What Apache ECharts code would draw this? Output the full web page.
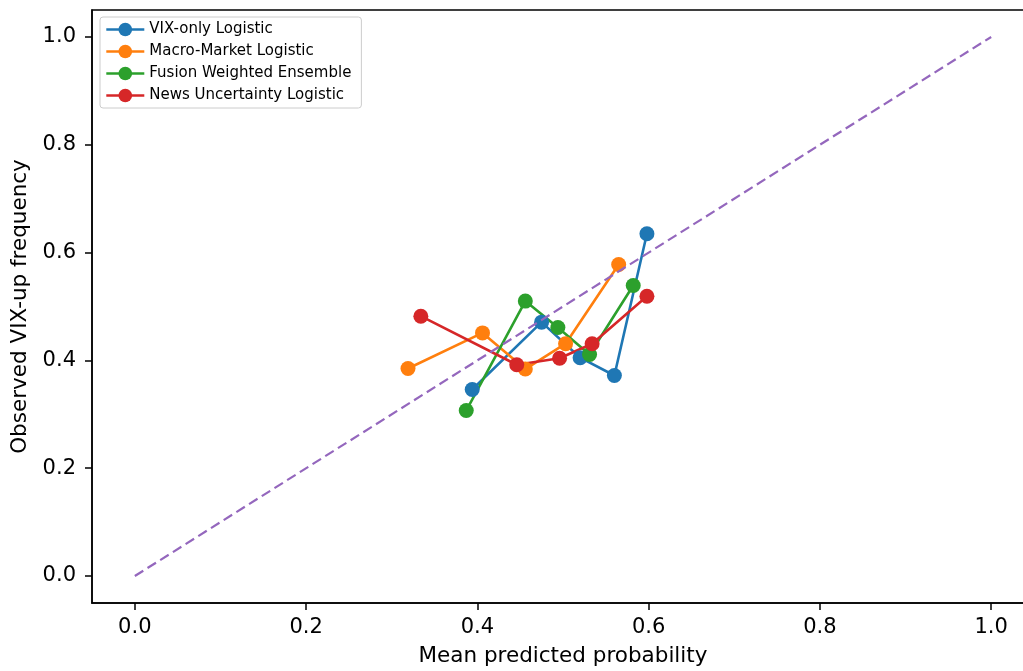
<!DOCTYPE html>
<html>
<head>
<meta charset="utf-8">
<title>Calibration curves</title>
<script src="https://cdn.jsdelivr.net/npm/echarts@6/dist/echarts.min.js"></script>
<style>
  html, body { margin: 0; padding: 0; background: #fff; }
  #main { width: 1023px; height: 671px; }
</style>
</head>
<body>
<div id="main"></div>
<script>
// calibration points: [mean predicted prob, observed freq]
var vixOnly = [[0.394, 0.346], [0.475, 0.471], [0.520, 0.405], [0.560, 0.372], [0.598, 0.635]]
var macroMarket = [[0.319, 0.385], [0.406, 0.451], [0.456, 0.384], [0.503, 0.431], [0.565, 0.578]]
var fusionEnsemble = [[0.387, 0.307], [0.456, 0.510], [0.494, 0.461], [0.531, 0.411], [0.582, 0.539]]
var newsUncertainty = [[0.334, 0.482], [0.446, 0.392], [0.496, 0.404], [0.534, 0.431], [0.598, 0.519]]
var diagonal = [[0, 0], [1, 1]]

var seriesNames = ['VIX-only Logistic', 'Macro-Market Logistic', 'Fusion Weighted Ensemble', 'News Uncertainty Logistic']
var seriesColors = ['#1f77b4', '#ff7f0e', '#2ca02c', '#d62728']
var tickValues = [0, 0.2, 0.4, 0.6, 0.8, 1.0]

var font = 'DejaVu Sans'

function makeLine(name, data, color) {
  return {
    name: name,
    type: 'line',
    data: data,
    color: color,
    symbol: 'circle',
    symbolSize: 15,
    showSymbol: true,
    lineStyle: { width: 2.6, color: color },
    itemStyle: { color: color },
    emphasis: { disabled: true },
    animation: false
  }
}

function axisCommon(name, gap, rotate) {
  return {
    type: 'value',
    min: -0.05,
    max: 1.05,
    name: name,
    nameLocation: 'middle',
    nameGap: gap,
    nameRotate: rotate,
    nameTextStyle: { fontFamily: font, fontSize: 21.5, color: '#000' },
    splitLine: { show: false },
    axisLine: { show: true, onZero: false, lineStyle: { color: '#000', width: 1.5 } },
    axisTick: { show: true, length: 7, customValues: tickValues, lineStyle: { color: '#000', width: 1.5 } },
    axisLabel: {
      customValues: tickValues,
      fontFamily: font,
      fontSize: 21,
      color: '#000',
      formatter: function (v) { return v.toFixed(1) }
    }
  }
}

var xAxis = axisCommon('Mean predicted probability', 42, 0)
xAxis.axisLabel.margin = 14
var yAxis = axisCommon('Observed VIX-up frequency', 59, 90)
yAxis.axisLabel.margin = 16

var series = [
  makeLine(seriesNames[0], vixOnly, seriesColors[0]),
  makeLine(seriesNames[1], macroMarket, seriesColors[1]),
  makeLine(seriesNames[2], fusionEnsemble, seriesColors[2]),
  makeLine(seriesNames[3], newsUncertainty, seriesColors[3]),
  {
    name: 'Perfect',
    type: 'line',
    data: diagonal,
    symbol: 'none',
    z: 5,
    lineStyle: { color: '#9467bd', width: 2.2, type: [10, 5] },
    emphasis: { disabled: true },
    animation: false
  }
]

var chart = echarts.init(document.getElementById('main'))
chart.setOption({
  animation: false,
  grid: {
    left: 92,
    top: 10,
    width: 942,
    bottom: 68,
    outerBoundsMode: 'none',
    containLabel: false,
    show: true,
    borderColor: '#000',
    borderWidth: 1.5
  },
  legend: {
    data: seriesNames,
    orient: 'vertical',
    left: 100,
    top: 17,
    itemWidth: 38,
    itemHeight: 17,
    itemGap: 7,
    padding: [5, 10, 5, 5],
    backgroundColor: 'rgba(255,255,255,0.8)',
    borderColor: '#cccccc',
    borderWidth: 1,
    borderRadius: 3,
    lineStyle: { width: 2.6 },
    textStyle: { fontFamily: font, fontSize: 15, color: '#000' }
  },
  xAxis: xAxis,
  yAxis: yAxis,
  series: series
})
</script>
</body>
</html>
